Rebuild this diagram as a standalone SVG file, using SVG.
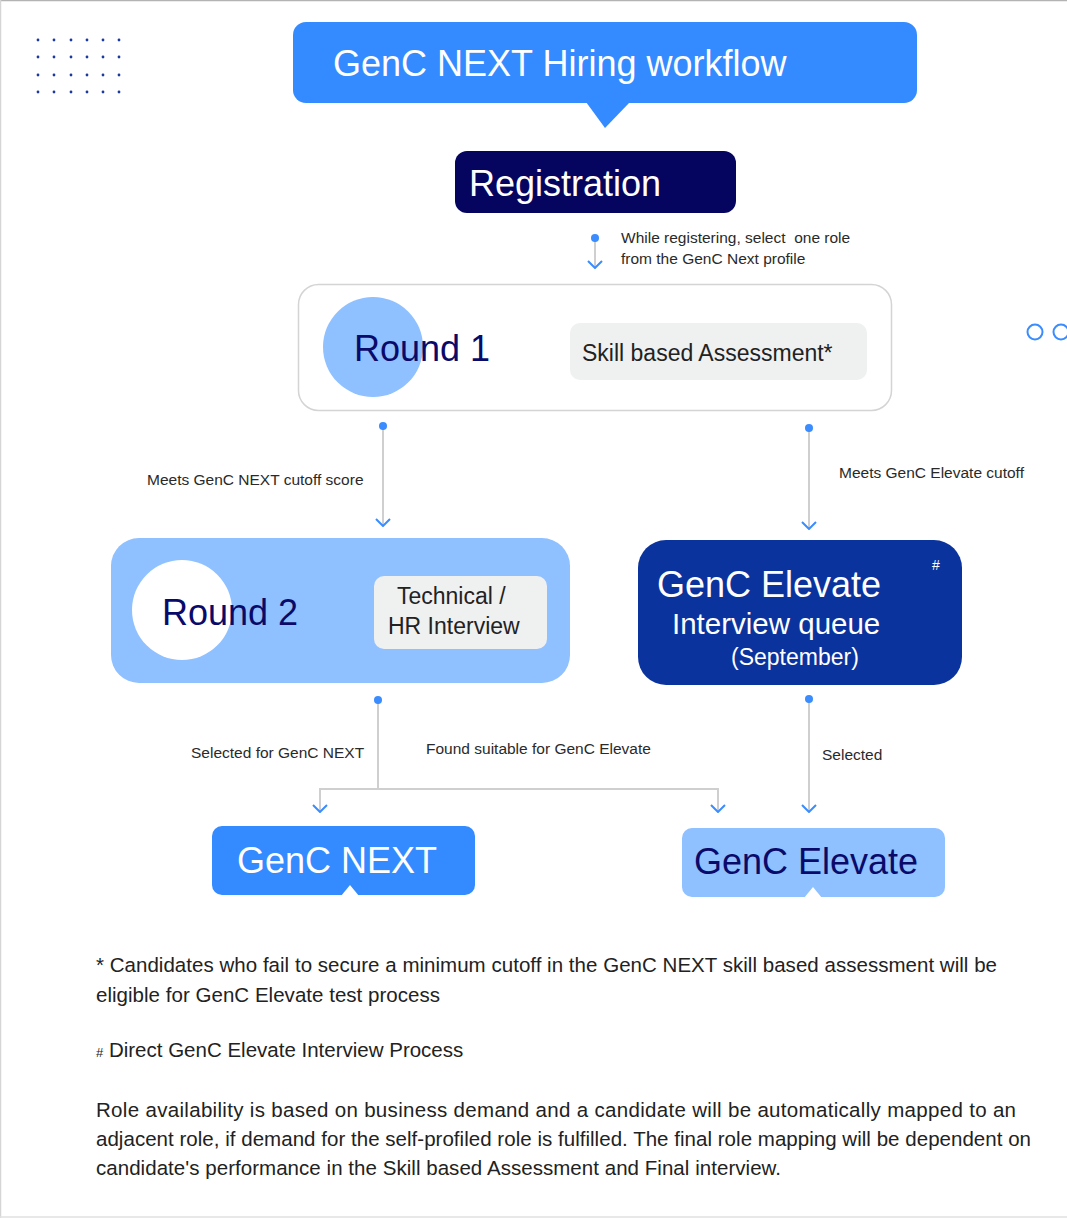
<svg xmlns="http://www.w3.org/2000/svg" width="1067" height="1218" viewBox="0 0 1067 1218">
<style>
text{font-family:"Liberation Sans",Arial,sans-serif}
.big{font-size:36px}
.lbl{font-size:15.5px;fill:#2a2a2a}
.foot{font-size:20.5px;fill:#222}
.line{fill:none;stroke:#cfcfcf;stroke-width:2}
.chev{fill:none;stroke:#3a8cff;stroke-width:2}
.dot{fill:#3a8cff}
.grid{fill:#1a3a9e}
</style>
<defs>
<marker id="m" viewBox="0 0 10 16" refX="9" refY="8" markerWidth="10" markerHeight="16" markerUnits="userSpaceOnUse" orient="auto-start-reverse"><path d="M2,1 L9,8 L2,15" class="chev"/></marker>
</defs>
<rect width="1067" height="1218" fill="#fff"/>
<line x1="0" y1="0.5" x2="1067" y2="0.5" stroke="#b3b3b3" stroke-width="1.5"/>
<line x1="0.5" y1="0" x2="0.5" y2="1218" stroke="#d5d5d5" stroke-width="1.5"/>
<line x1="0" y1="1217" x2="1067" y2="1217" stroke="#e0e0e0" stroke-width="1.5"/>
<g id="dots">
<g class="grid">
<circle cx="38" cy="40" r="1.4"/><circle cx="54" cy="40" r="1.4"/><circle cx="71" cy="40" r="1.4"/><circle cx="87" cy="40" r="1.4"/><circle cx="103" cy="40" r="1.4"/><circle cx="119" cy="40" r="1.4"/>
<circle cx="38" cy="57" r="1.4"/><circle cx="54" cy="57" r="1.4"/><circle cx="71" cy="57" r="1.4"/><circle cx="87" cy="57" r="1.4"/><circle cx="103" cy="57" r="1.4"/><circle cx="119" cy="57" r="1.4"/>
<circle cx="38" cy="75" r="1.4"/><circle cx="54" cy="75" r="1.4"/><circle cx="71" cy="75" r="1.4"/><circle cx="87" cy="75" r="1.4"/><circle cx="103" cy="75" r="1.4"/><circle cx="119" cy="75" r="1.4"/>
<circle cx="38" cy="92" r="1.4"/><circle cx="54" cy="92" r="1.4"/><circle cx="71" cy="92" r="1.4"/><circle cx="87" cy="92" r="1.4"/><circle cx="103" cy="92" r="1.4"/><circle cx="119" cy="92" r="1.4"/>
</g>
<circle cx="1035" cy="332" r="7.5" fill="none" stroke="#3a8cff" stroke-width="2"/>
<circle cx="1061" cy="332" r="7.5" fill="none" stroke="#3a8cff" stroke-width="2"/>
</g>
<g id="title">
<rect x="293" y="22" width="624" height="81" rx="13" fill="#338bff"/>
<path d="M586,102 L605,128 L630,102 Z" fill="#338bff"/>
<text x="333" y="76" class="big" fill="#fff">GenC NEXT Hiring workflow</text>
</g>
<g id="registration">
<rect x="455" y="151" width="281" height="62" rx="12" fill="#05055f"/>
<text x="469" y="196" class="big" fill="#fff">Registration</text>
</g>
<g id="round1">
<rect x="298.5" y="284.5" width="593" height="126" rx="20" fill="#fff" stroke="#d4d4d4" stroke-width="1.5"/>
<circle cx="373" cy="347" r="50" fill="#8fc0ff"/>
<text x="354" y="361" class="big" fill="#0a0a6b">Round 1</text>
<rect x="570" y="323" width="297" height="57" rx="10" fill="#eff0f0"/>
<text x="582" y="361" font-size="23" fill="#222">Skill based Assessment*</text>
</g>
<g id="round2">
<rect x="111" y="538" width="459" height="145" rx="28" fill="#8fc0ff"/>
<circle cx="182" cy="610" r="50" fill="#fff"/>
<text x="162" y="625" class="big" fill="#0a0a6b">Round 2</text>
<rect x="374" y="576" width="173" height="73" rx="10" fill="#eff0f0"/>
<text x="397" y="604" font-size="23" fill="#222">Technical /</text>
<text x="388" y="634" font-size="23" fill="#222">HR Interview</text>
</g>
<g id="elevateQueue">
<rect x="638" y="540" width="324" height="145" rx="28" fill="#0b339e"/>
<text x="657" y="597" class="big" fill="#fff">GenC Elevate</text>
<text x="672" y="634" font-size="29.5" fill="#fff">Interview queue</text>
<text x="731" y="665" font-size="23" fill="#fff">(September)</text>
<text x="932" y="570" font-size="14" fill="#fff">#</text>
</g>
<g id="gencNext">
<rect x="212" y="826" width="263" height="69" rx="10" fill="#338bff"/>
<path d="M341,896 L350,885 L359,896 Z" fill="#fff"/>
<text x="237" y="873" class="big" fill="#fff">GenC NEXT</text>
</g>
<g id="gencElevate">
<rect x="682" y="828" width="263" height="69" rx="10" fill="#8fc0ff"/>
<path d="M804,898 L813,887 L822,898 Z" fill="#fff"/>
<text x="694" y="874" class="big" fill="#0a0a6b">GenC Elevate</text>
</g>
<g id="connectors">
<line x1="595" y1="238" x2="595" y2="268" class="line" marker-end="url(#m)"/>
<circle cx="595" cy="238" r="4" class="dot"/>
<line x1="383" y1="426" x2="383" y2="526" class="line" marker-end="url(#m)"/>
<circle cx="383" cy="426" r="4" class="dot"/>
<line x1="809" y1="428" x2="809" y2="529" class="line" marker-end="url(#m)"/>
<circle cx="809" cy="428" r="4" class="dot"/>
<polyline points="378,700 378,789" class="line"/>
<polyline points="320,812 320,789 718,789 718,812" class="line" marker-start="url(#m)" marker-end="url(#m)"/>
<circle cx="378" cy="700" r="4" class="dot"/>
<line x1="809" y1="699" x2="809" y2="812" class="line" marker-end="url(#m)"/>
<circle cx="809" cy="699" r="4" class="dot"/>
<text x="621" y="243" class="lbl" xml:space="preserve">While registering, select  one role</text>
<text x="621" y="264" class="lbl">from the GenC Next profile</text>
<text x="147" y="485" class="lbl">Meets GenC NEXT cutoff score</text>
<text x="839" y="478" class="lbl">Meets GenC Elevate cutoff</text>
<text x="191" y="758" class="lbl">Selected for GenC NEXT</text>
<text x="426" y="754" class="lbl">Found suitable for GenC Elevate</text>
<text x="822" y="760" class="lbl">Selected</text>
</g>
<g id="notes">
<text x="96" y="972" class="foot" textLength="901" lengthAdjust="spacing">* Candidates who fail to secure a minimum cutoff in the GenC NEXT skill based assessment will be</text>
<text x="96" y="1002" class="foot" textLength="344" lengthAdjust="spacing">eligible for GenC Elevate test process</text>
<text x="96" y="1057" class="foot"><tspan font-size="13">#</tspan> Direct GenC Elevate Interview Process</text>
<text x="96" y="1117" class="foot" textLength="920" lengthAdjust="spacing">Role availability is based on business demand and a candidate will be automatically mapped to an</text>
<text x="96" y="1146" class="foot" textLength="935" lengthAdjust="spacing">adjacent role, if demand for the self-profiled role is fulfilled. The final role mapping will be dependent on</text>
<text x="96" y="1175" class="foot" textLength="685" lengthAdjust="spacing">candidate's performance in the Skill based Assessment and Final interview.</text>
</g>
</svg>
